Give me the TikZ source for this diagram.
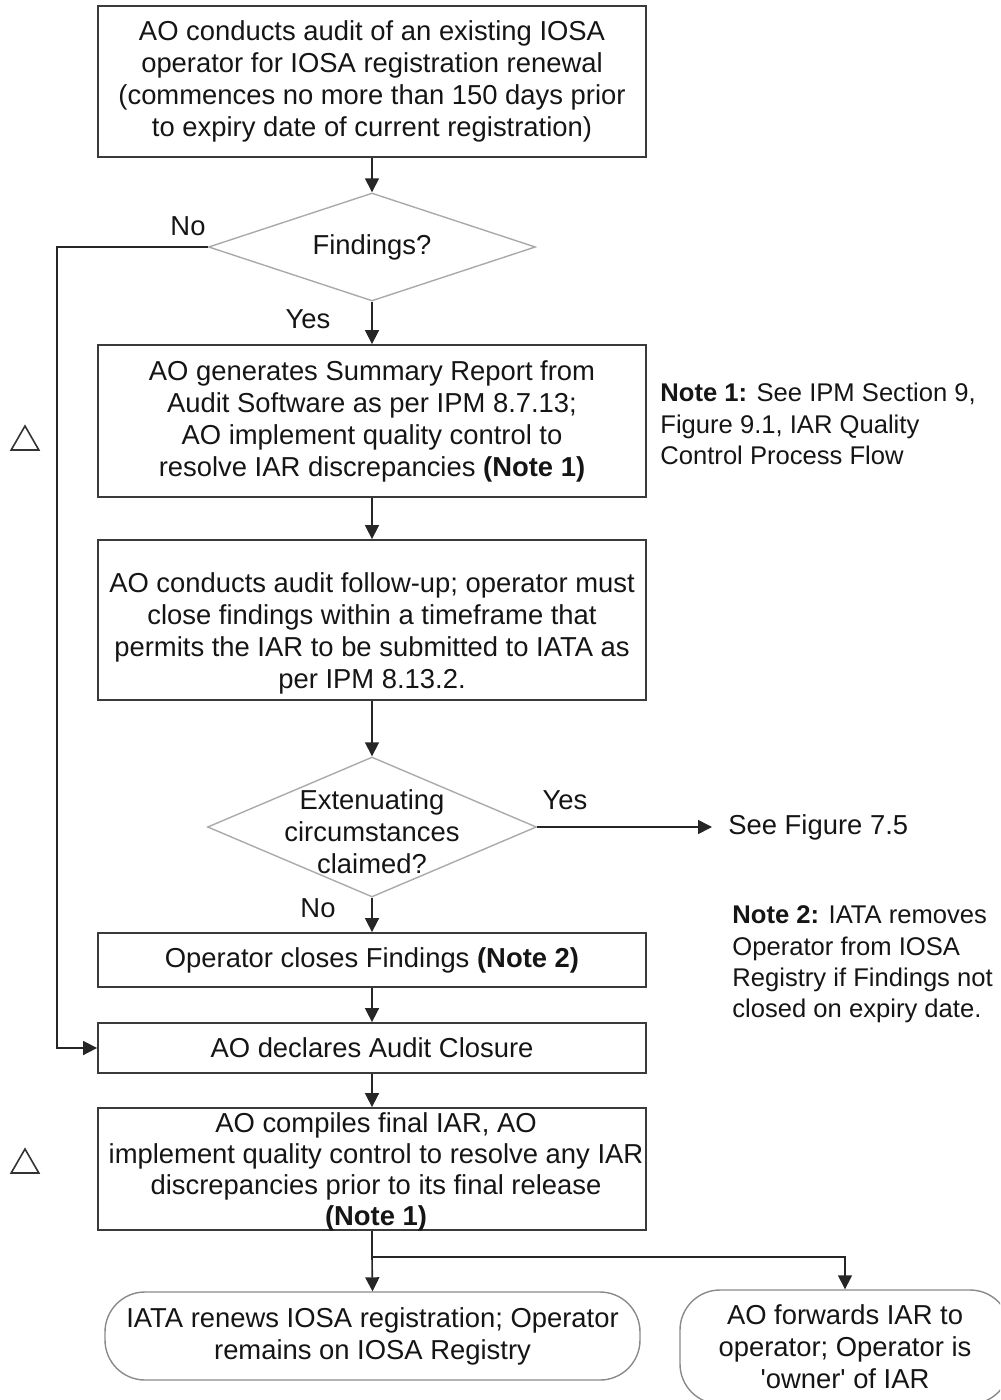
\documentclass[tikz,border=0pt]{standalone}
\usepackage{fontspec}
\setmainfont{Liberation Sans}
\usetikzlibrary{shapes.geometric,arrows.meta,calc}
\definecolor{txt}{HTML}{151515}
\definecolor{boxline}{HTML}{3A3A3A}
\definecolor{dialine}{HTML}{AAAAAA}
\definecolor{termline}{HTML}{8A8A8A}
\begin{document}
\begin{tikzpicture}[x=0.5pt,y=-0.5pt,
  every node/.style={text=txt,font=\fontsize{13.7}{16}\selectfont},
  procbox/.style={draw=boxline,line width=0.9pt,rectangle,minimum width=274pt,align=center,inner sep=0pt},
  decide/.style={draw=dialine,line width=0.7pt,diamond,aspect=3,inner sep=0pt,align=center},
  term/.style={draw=termline,line width=0.7pt,rectangle,rounded corners=20pt,align=center,inner sep=0pt},
  lbl/.style={inner sep=0pt},
  note/.style={align=left,inner sep=0pt,font=\fontsize{12.8}{15.6}\selectfont},
  trimark/.style={draw=black!80,line width=0.8pt,regular polygon,regular polygon sides=3,minimum size=16pt,inner sep=0pt},
  arr/.style={draw=black!85,line width=0.8pt,-{Triangle[width=7pt,length=7pt]}},
  ln/.style={draw=black!85,line width=0.8pt}]
\useasboundingbox (0,0) rectangle (1000,1400);
\clip (0,0) rectangle (1000,1400);

% process boxes
\node[procbox,minimum height=75.5pt] (b1) at (372,81.5)
  {AO conducts audit of an existing IOSA\\operator for IOSA registration renewal\\(commences no more than 150 days prior\\to expiry date of current registration)};
\node[procbox,minimum height=76pt] (b2) at (372,421)
  {AO generates Summary Report from\\Audit Software as per IPM 8.7.13;\\AO implement quality control to\\resolve IAR discrepancies \textbf{(Note 1)}};
\node[procbox,minimum height=80pt] (b3) at (372,620) {};
\node[lbl,align=center] (b3t) at (372,633)
  {AO conducts audit follow-up; operator must\\close findings within a timeframe that\\permits the IAR to be submitted to IATA as\\per IPM 8.13.2.};
\node[procbox,minimum height=27pt] (b4) at (372,960)
  {Operator closes Findings \textbf{(Note 2)}};
\node[procbox,minimum height=25pt] (b5) at (372,1048)
  {AO declares Audit Closure};
\node[procbox,minimum height=61pt] (b6) at (372,1169) {};
\node[lbl,align=center,font=\fontsize{13.7}{15.5}\selectfont] (b6t) at (376,1172)
  {AO compiles final IAR, AO\\implement quality control to resolve any IAR\\discrepancies prior to its final release\\\textbf{(Note 1)}};

% decisions
\node[decide,minimum width=163.5pt,minimum height=54pt] (d1) at (372,247) {Findings?};
\node[decide,minimum width=164.5pt,minimum height=70pt] (d2) at (372,827) {};
\node[lbl,align=center] (d2t) at (372,832) {Extenuating\\circumstances\\claimed?};

% terminals
\node[term,minimum width=267.5pt,minimum height=44pt] (t1) at (372.5,1336)
  {IATA renews IOSA registration; Operator\\remains on IOSA Registry};
\node[term,minimum width=165pt,minimum height=57pt] (t2) at (845,1347)
  {AO forwards IAR to\\operator; Operator is\\\textquotesingle owner\textquotesingle\ of IAR};

% notes and labels
\node[note,anchor=west] (n1) at (660,424)
  {\textbf{Note 1:} See IPM Section 9,\\Figure 9.1, IAR Quality\\Control Process Flow};
\node[note,anchor=west] (n2) at (732,964.5)
  {\textbf{Note 2:} IATA removes\\Operator from IOSA\\Registry if Findings not\\closed on expiry date.};
\node[anchor=west,inner sep=0pt,inner xsep=8pt] (fig) at (712,827) {See Figure 7.5};
\node[lbl] (no1) at (188,226) {No};
\node[lbl] (yes1) at (308,319) {Yes};
\node[lbl] (yes2) at (565,800) {Yes};
\node[lbl] (no2) at (318,908) {No};

\node[trimark] (m1) at (25,442) {};
\node[trimark] (m2) at (25,1165) {};

% connectors
\coordinate (lft) at (57,247);
\coordinate (br) at (372,1257);
\draw[arr] (b1.south) -- (d1.north);
\draw[arr] (d1.south) -- (b2.north);
\draw[arr] (d1.west) -- (lft) |- (b5.west);
\draw[arr] (b2.south) -- (b3.north);
\draw[arr] (b3.south) -- (d2.north);
\draw[arr] (d2.east) -- (fig.west);
\draw[arr] (d2.south) -- (b4.north);
\draw[arr] (b4.south) -- (b5.north);
\draw[arr] (b5.south) -- (b6.north);
\draw[ln] (b6.south) -- (br);
\draw[arr] (br) -- (t1.north);
\draw[arr] (br) -| (t2.north);
\end{tikzpicture}
\end{document}
